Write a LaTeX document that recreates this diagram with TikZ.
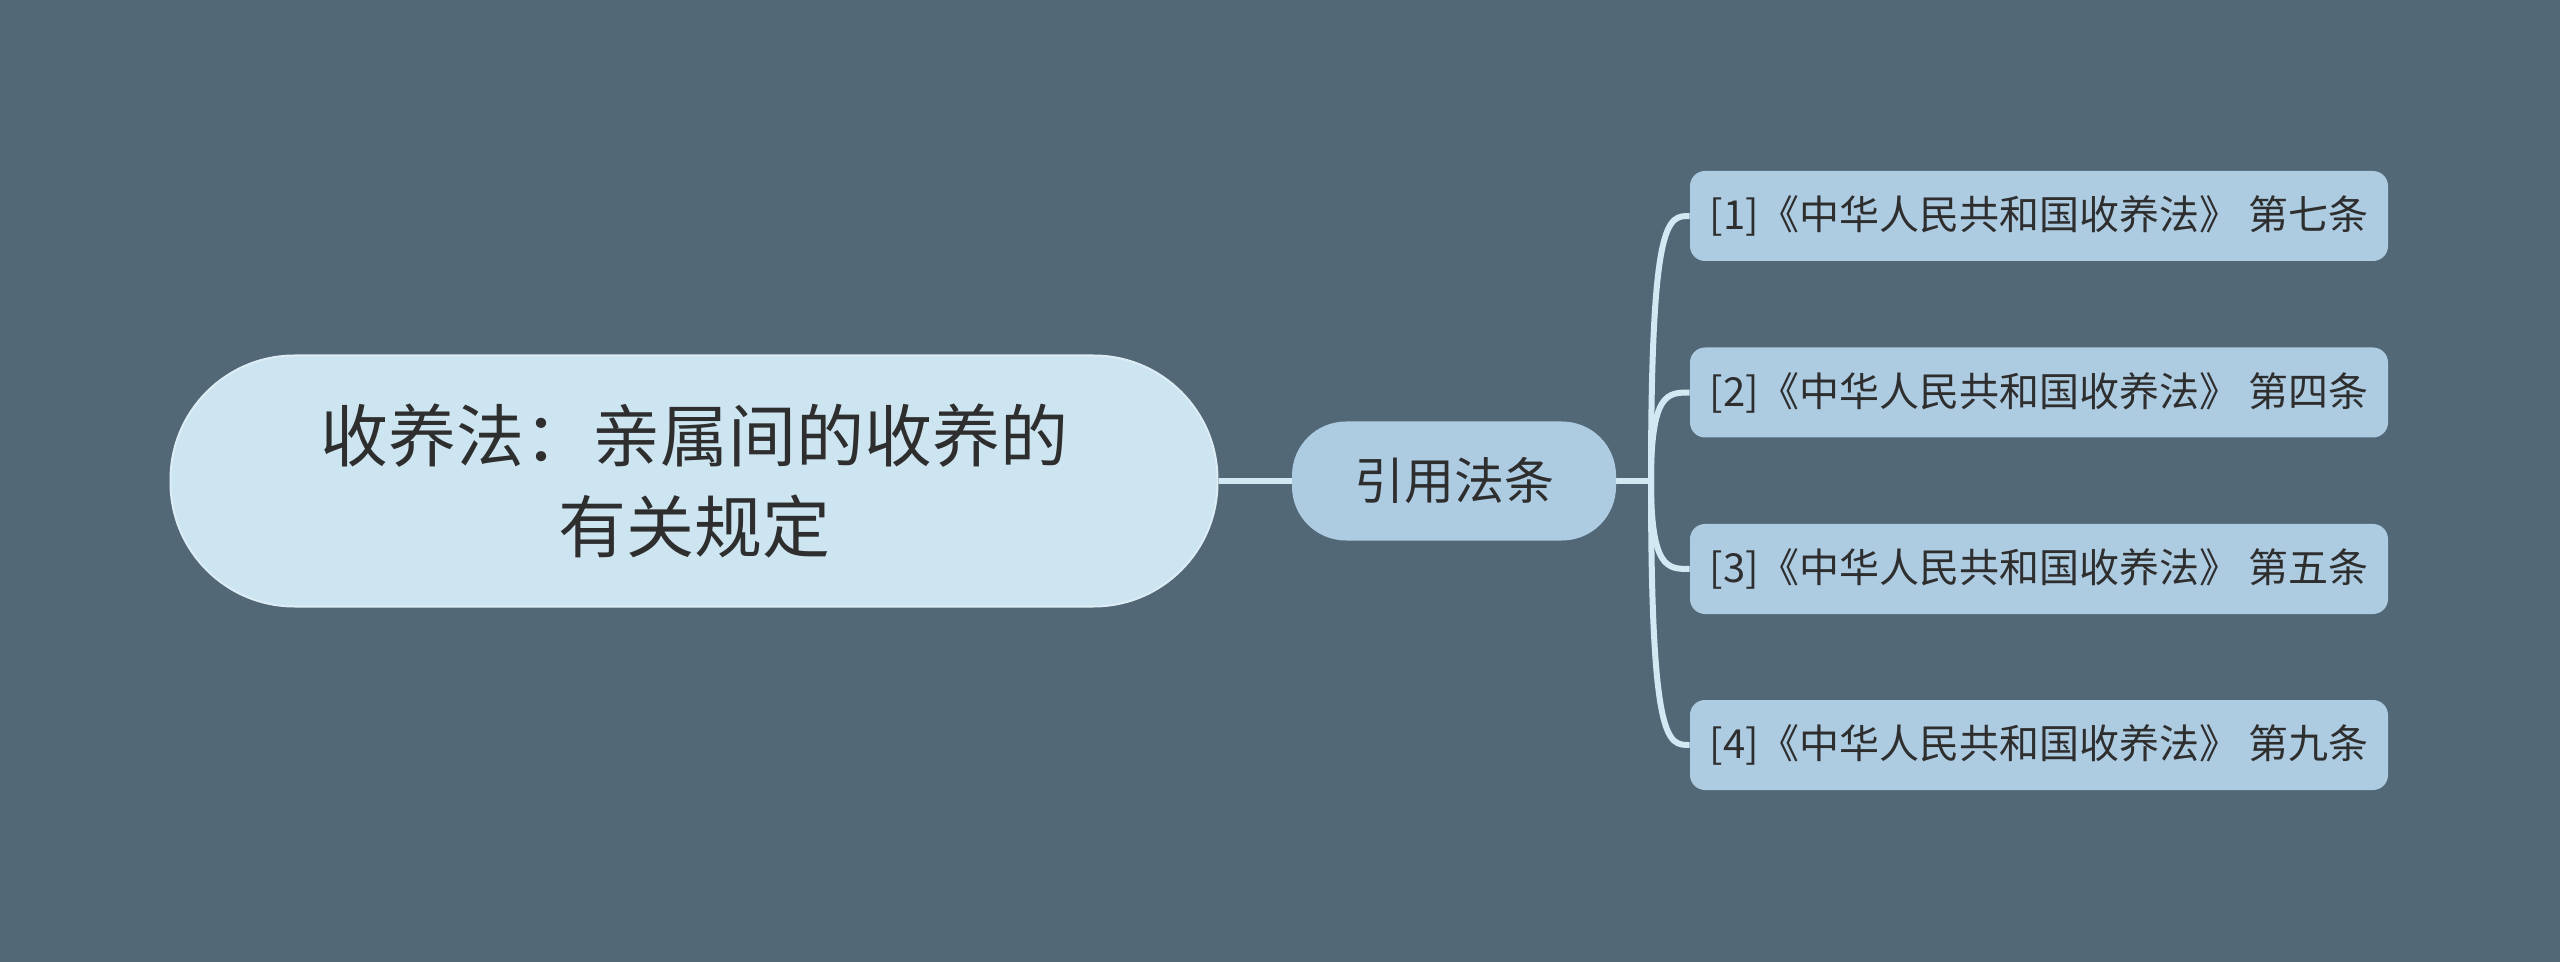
\documentclass[tikz,border=0pt]{standalone}
\usepackage{fontspec}
\setmainfont{Noto Sans CJK SC}
\definecolor{bg}{HTML}{526877}
\definecolor{rootfill}{HTML}{CDE5F1}
\definecolor{subfill}{HTML}{ADCBE1}
\definecolor{linec}{HTML}{D2E8F3}
\definecolor{txt}{HTML}{2E2E2E}
\begin{document}
\begin{tikzpicture}[x=0.5pt,y=-0.5pt,
  rootbox/.style={fill=rootfill, draw=rootfill!70!white, line width=1pt, rounded corners=62pt, minimum width=523.5pt, minimum height=125.5pt, inner sep=0pt, align=center, text=txt, font=\fontsize{34pt}{45.5pt}\selectfont},
  midbox/.style={fill=subfill, rounded corners=27pt, minimum width=162pt, minimum height=59.5pt, inner sep=0pt, text=txt, font=\fontsize{25pt}{30pt}\selectfont},
  leafbox/.style={fill=subfill, rounded corners=7.5pt, minimum width=349pt, minimum height=45pt, inner sep=0pt, text=txt, font=\fontsize{20pt}{24pt}\selectfont},
  conn/.style={draw=linec, line width=3pt}]
\fill[bg] (0,0) rectangle (2560,962);
\useasboundingbox (0,0) rectangle (2560,962);
\node[rootbox] (root) at (694,481) {收养法：亲属间的收养的\\有关规定};
\node[midbox] (mid) at (1454,481) {引用法条};
\node[leafbox] (l1) at (2039,216) {[1]《中华人民共和国收养法》 第七条};
\node[leafbox] (l2) at (2039,392.5) {[2]《中华人民共和国收养法》 第四条};
\node[leafbox] (l3) at (2039,569) {[3]《中华人民共和国收养法》 第五条};
\node[leafbox] (l4) at (2039,745) {[4]《中华人民共和国收养法》 第九条};
\coordinate (hub) at (1651,481);
\draw[conn] (root.east) -- (mid.west);
\draw[conn] (mid.east) -- (hub);
\foreach \n in {l1,l2,l3,l4}{
  \draw[conn] (hub) .. controls (hub |- \n.west) and ([xshift=-11pt]\n.west) .. (\n.west);
}
\end{tikzpicture}
\end{document}
